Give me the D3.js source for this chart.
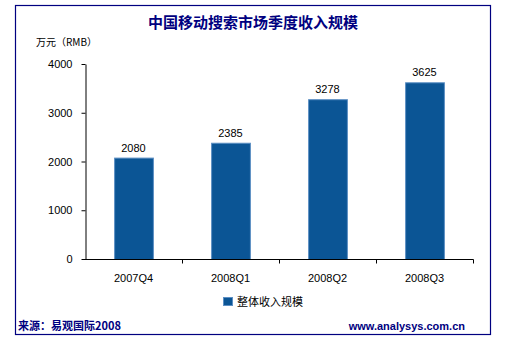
<!DOCTYPE html>
<html>
<head>
<meta charset="utf-8">
<script src="https://cdn.jsdelivr.net/npm/d3@7"></script>
<style>
  html, body { margin: 0; padding: 0; background: #fff; }
  svg { display: block; }
</style>
</head>
<body>
<svg id="chart" width="513" height="342"></svg>
<script>
// Quarterly revenue of China's mobile search market (unit: 10k RMB)
const quarters = ["2007Q4", "2008Q1", "2008Q2", "2008Q3"];
const revenue = [2080, 2385, 3278, 3625];
const yTicks = [0, 1000, 2000, 3000, 4000];
const seriesName = "整体收入规模";

const svg = d3.select("#chart");
const navy = "#000080";
const barFill = "#0B5595";
const barEdge = "#5C8FC4";
const latin = "Arial, 'Liberation Sans', sans-serif";
const cjk = "'Noto Sans CJK SC', 'Liberation Sans', sans-serif";

// frame
svg.append("rect")
  .attr("x", 15.5).attr("y", 5.5)
  .attr("width", 475).attr("height", 329)
  .attr("fill", "#fff").attr("stroke", navy).attr("stroke-width", 1.2);

// title
svg.append("text")
  .attr("x", 253).attr("y", 28)
  .attr("text-anchor", "middle")
  .attr("font-family", cjk).attr("font-weight", "bold")
  .attr("font-size", 15).attr("fill", navy)
  .text("中国移动搜索市场季度收入规模");

// unit label
svg.append("text")
  .attr("x", 36).attr("y", 46)
  .attr("font-family", cjk).attr("font-size", 10).attr("fill", "#000")
  .text("万元（RMB）");

const plot = { left: 85, right: 473, top: 64, bottom: 259 };

const x = d3.scaleBand()
  .domain(quarters)
  .range([plot.left, plot.right])
  .paddingInner(0.6).paddingOuter(0.3);

const xb = d3.scaleBand().domain(quarters).range([plot.left, plot.right]);

const y = d3.scaleLinear().domain([0, 4000]).range([plot.bottom, plot.top]);

// y axis
const yAxis = svg.append("g")
  .attr("transform", `translate(${plot.left + 0.5},0)`)
  .call(d3.axisLeft(y).tickValues(yTicks).tickFormat(d3.format("d"))
    .tickSize(4).tickSizeOuter(0).tickPadding(9));
yAxis.select(".domain").attr("stroke", "#000");
yAxis.selectAll(".tick line").attr("stroke", "#000");
yAxis.selectAll(".tick text")
  .attr("font-family", latin).attr("font-size", 11).attr("fill", "#000");

// bars
svg.append("g").selectAll("rect")
  .data(revenue)
  .join("rect")
  .attr("x", (d, i) => x(quarters[i]) + 0.5)
  .attr("y", d => y(d) + 0.5)
  .attr("width", x.bandwidth())
  .attr("height", d => y(0) - y(d))
  .attr("fill", barFill)
  .attr("stroke", barEdge).attr("stroke-width", 1);

// value labels
svg.append("g").selectAll("text")
  .data(revenue)
  .join("text")
  .attr("x", (d, i) => x(quarters[i]) + x.bandwidth() / 2)
  .attr("y", d => y(d) - 6)
  .attr("text-anchor", "middle")
  .attr("font-family", latin).attr("font-size", 11).attr("fill", "#000")
  .text(d => d);

// x axis: ticks at category boundaries
const xAxisG = svg.append("g")
  .attr("transform", `translate(0,${plot.bottom + 0.5})`);
xAxisG.append("line")
  .attr("x1", plot.left).attr("x2", plot.right + 0.5)
  .attr("stroke", "#000");
xAxisG.selectAll("line.tick")
  .data(quarters)
  .join("line").attr("class", "tick")
  .attr("x1", d => xb(d) + xb.bandwidth() + 0.5)
  .attr("x2", d => xb(d) + xb.bandwidth() + 0.5)
  .attr("y1", 0).attr("y2", 4)
  .attr("stroke", "#000");
xAxisG.selectAll("text")
  .data(quarters)
  .join("text")
  .attr("x", d => xb(d) + xb.bandwidth() / 2)
  .attr("y", 22)
  .attr("text-anchor", "middle")
  .attr("font-family", latin).attr("font-size", 11).attr("fill", "#000")
  .text(d => d);

// legend
const legend = svg.append("g").attr("transform", "translate(223,297)");
legend.append("rect")
  .attr("x", 0.5).attr("y", 0.5).attr("width", 9).attr("height", 8)
  .attr("fill", barFill).attr("stroke", barEdge);
legend.append("text")
  .attr("x", 14).attr("y", 9)
  .attr("font-family", cjk).attr("font-size", 11).attr("fill", "#000")
  .text(seriesName);

// footer
svg.append("text")
  .attr("x", 18).attr("y", 330)
  .attr("font-family", cjk).attr("font-weight", "bold")
  .attr("font-size", 11).attr("fill", navy)
  .text("来源：易观国际2008");
svg.append("text")
  .attr("x", 465).attr("y", 330)
  .attr("text-anchor", "end")
  .attr("font-family", latin).attr("font-weight", "bold")
  .attr("font-size", 11).attr("fill", navy)
  .text("www.analysys.com.cn");
</script>
</body>
</html>
